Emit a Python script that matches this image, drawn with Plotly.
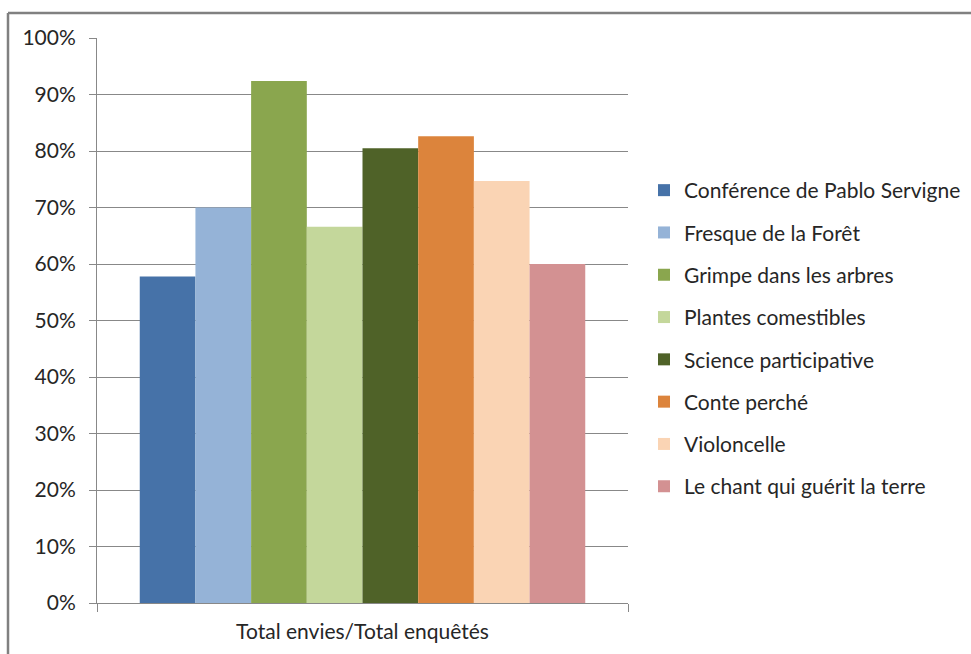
import plotly.graph_objects as go

# Survey result: share of respondents interested in each activity
category = ["Total envies/Total enquêtés"]
activities = [
    "Conférence de Pablo Servigne",
    "Fresque de la Forêt",
    "Grimpe dans les arbres",
    "Plantes comestibles",
    "Science participative",
    "Conte perché",
    "Violoncelle",
    "Le chant qui guérit la terre",
]
shares = [0.578, 0.70, 0.924, 0.666, 0.805, 0.826, 0.747, 0.60]
colors = [
    "#4672A8", "#95B3D7", "#8AA64E", "#C4D79B",
    "#4F6228", "#DC843C", "#FAD4B4", "#D39192",
]
y_ticks = [i / 10 for i in range(11)]
y_labels = [f"{i * 10}%" for i in range(11)]

FONT = "Lato, 'Liberation Sans', Arial, sans-serif"
GRID = "#888888"
TEXT = "#262626"
FS = 21

W, H = 971, 654
ML, MR, MT, MB = 97, 343, 38, 51

fig = go.Figure()
for i, (name, val, col) in enumerate(zip(activities, shares, colors)):
    fig.add_trace(go.Bar(
        x=category, y=[val], name=name,
        marker=dict(color=col, line=dict(width=0)),
        legendgroup=f"g{i}",
    ))

plot_w = W - ML - MR
plot_h = H - MT - MB

def px_x(p):
    return (p - ML) / plot_w

def px_y(p):
    return (H - MB - p) / plot_h

# chart frame (top and left edges)
fig.add_shape(type="line", xref="paper", yref="paper",
              x0=px_x(8), x1=px_x(980), y0=px_y(13), y1=px_y(13),
              line=dict(color="#808080", width=2.5))
fig.add_shape(type="line", xref="paper", yref="paper",
              x0=px_x(8), x1=px_x(8), y0=px_y(13), y1=px_y(670),
              line=dict(color="#808080", width=2.5))

fig.update_layout(
    width=W, height=H,
    margin=dict(l=ML, r=MR, t=MT, b=MB, autoexpand=False),
    paper_bgcolor="white", plot_bgcolor="white",
    barmode="group", bargap=0.161, bargroupgap=0,
    font=dict(family=FONT, size=FS, color=TEXT),
    showlegend=True,
    legend=dict(
        x=px_x(644), y=px_y(170), xanchor="left", yanchor="top",
        font=dict(family=FONT, size=FS, color=TEXT),
        tracegroupgap=12, itemwidth=30,
        bgcolor="rgba(0,0,0,0)",
    ),
    xaxis=dict(
        type="category", showline=True, linecolor=GRID, linewidth=1,
        ticks="outside", tickson="boundaries", ticklen=8, tickcolor=GRID,
        showgrid=False, tickfont=dict(family=FONT, size=FS, color=TEXT),
        range=[-0.5, 0.5], ticklabelstandoff=10,
    ),
    yaxis=dict(
        range=[0, 1], tickvals=y_ticks, ticktext=y_labels,
        showline=True, linecolor=GRID, linewidth=1,
        ticks="outside", ticklen=7, tickcolor=GRID,
        showgrid=True, gridcolor=GRID, gridwidth=1,
        zeroline=False, ticklabelstandoff=9,
        tickfont=dict(family=FONT, size=FS, color=TEXT),
    ),
)

fig.write_html("out.html")
